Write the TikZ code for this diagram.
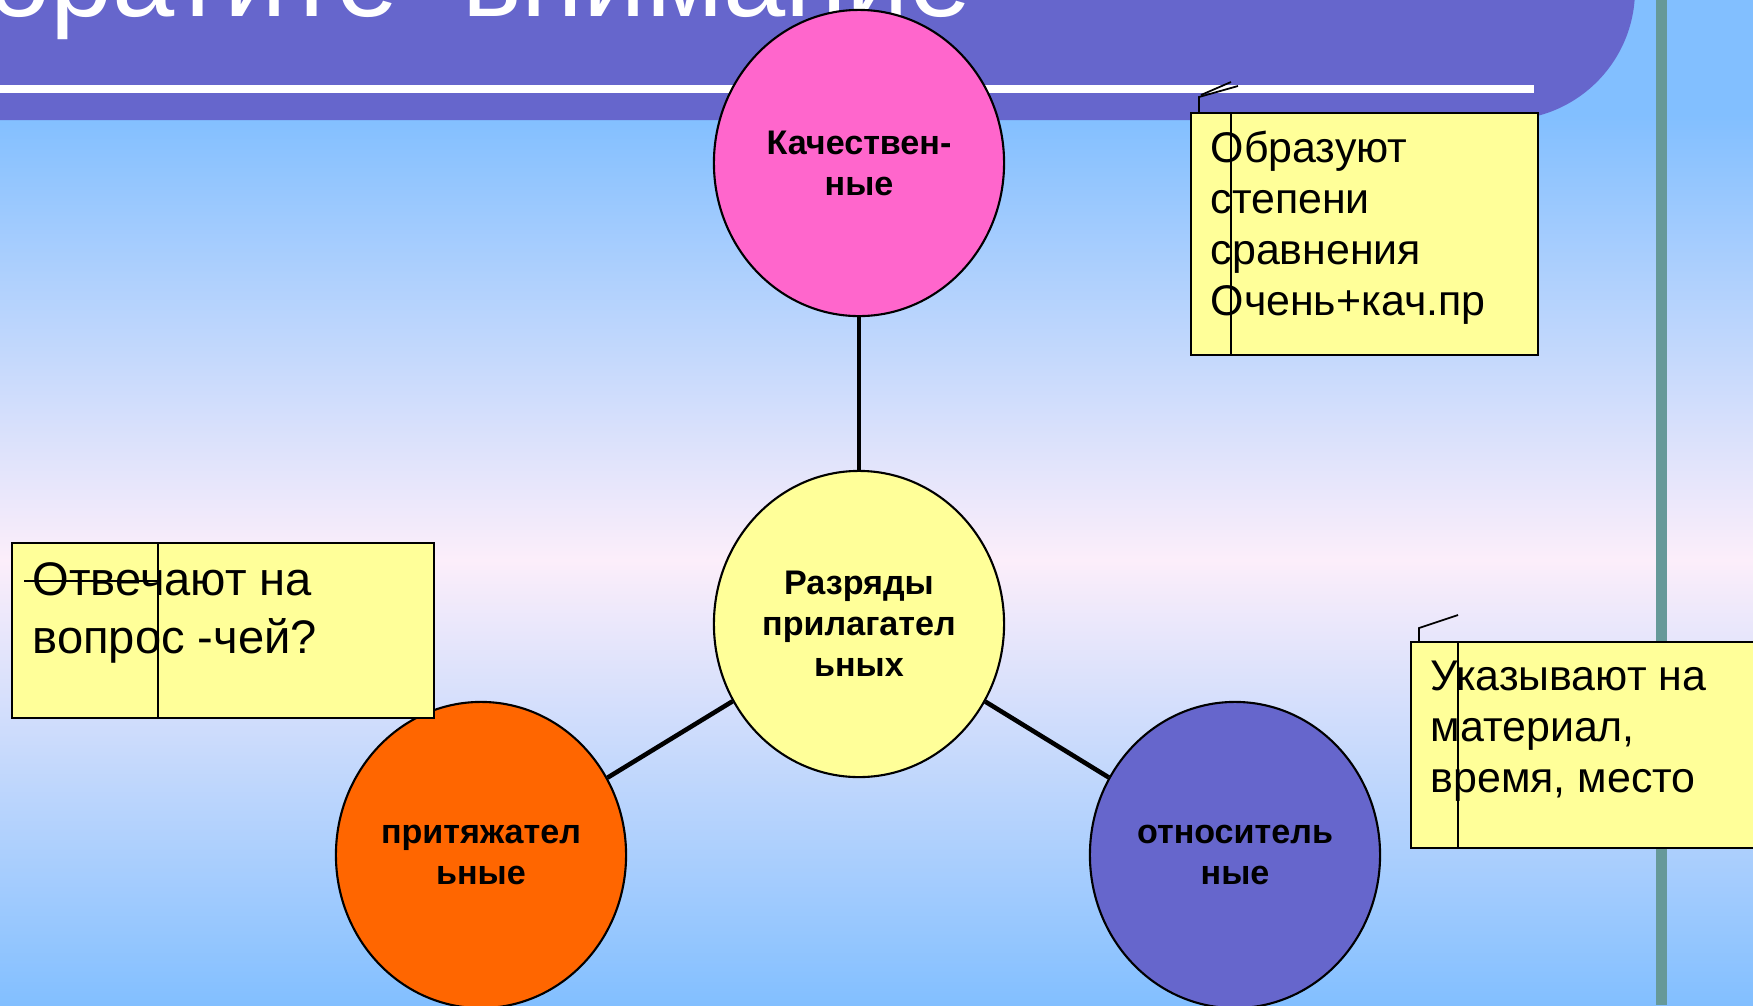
\documentclass[tikz,border=0pt]{standalone}
\usepackage{fontspec}
\setmainfont{Liberation Sans}
\usetikzlibrary{shapes.geometric}

\definecolor{fondoazul}{HTML}{82BFFF}
\definecolor{fondoclaro}{HTML}{FCEEFA}
\definecolor{morado}{HTML}{6666CC}
\definecolor{rosa}{HTML}{FF66CC}
\definecolor{naranja}{HTML}{FF6600}
\definecolor{amarillo}{HTML}{FFFF99}
\definecolor{verdeazul}{HTML}{669999}

\begin{document}
\begin{tikzpicture}[x=0.01cm, y=-0.01cm,
    circulo/.style={ellipse, draw=black, line width=0.6pt, minimum width=2.9cm,
        minimum height=3.06cm, inner sep=0pt, align=center,
        font=\bfseries\fontsize{9.7}{11.7}\selectfont},
    enlace/.style={line width=1.3pt},
    nota/.style={fill=amarillo, draw=black, line width=0.7pt},
    marca/.style={line width=0.5pt},
    textonota/.style={anchor=north west, inner sep=0pt, align=left,
        font=\fontsize{12.2}{14.5}\selectfont}]
            \useasboundingbox (0,0) rectangle (1753,1005);
            \clip (0,0) rectangle (1753,1005);

            % Fondo
            \fill[fondoazul] (0,0) rectangle (1753,115);
            \shade[top color=fondoazul, bottom color=fondoclaro] (0,115) rectangle (1753,560);
            \shade[top color=fondoclaro, bottom color=fondoazul] (0,560) rectangle (1753,1005);
            \fill[verdeazul] (1656,0) rectangle (1667,1005);

            % Titulo
            \fill[morado, rounded corners=1.3cm] (-200,-200) rectangle (1635,120);
            \fill[white] (0,85) rectangle (1534,93);
            \node[anchor=base west, inner sep=0pt, text=white, font=\fontsize{31.8}{36}\selectfont]
                (titulo) at (-101,16) {Обратите\hspace{0.64cm}внимание};

            % Circulos
            \node[circulo, fill=rosa] (kach) at (859,163) {Качествен-\\ные};
            \node[circulo, fill=amarillo] (razr) at (859,624) {Разряды\\прилагател\\ьных};
            \node[circulo, fill=naranja] (prit) at (481,855) {притяжател\\ьные};
            \node[circulo, fill=morado] (otn) at (1235,855) {относитель\\ные};

            % Enlaces
            \draw[enlace] (kach) -- (razr);
            \draw[enlace] (razr) -- (prit);
            \draw[enlace] (razr) -- (otn);

            % Nota arriba
            \draw[nota] (1191,113) rectangle (1538,355);
            \draw[marca] (1231,113) -- (1231,355);
            \draw[marca] (1199,113) -- (1199,97) -- (1238,86);
            \draw[marca] (1201,95) -- (1231,82);
            \node[textonota] (obraz) at (1210,130) {Образуют\\степени\\сравнения\\Очень+кач.пр};

            % Nota abajo
            \draw[nota] (1411,642) rectangle (1800,848);
            \draw[marca] (1458,642) -- (1458,848);
            \draw[marca] (1419,642) -- (1419,628) -- (1458,615);
            \node[textonota] (ukaz) at (1430,660) {Указывают на\\материал,\\время, место};

            % Nota izquierda
            \draw[nota] (12,543) rectangle (434,718);
            \draw[marca] (158,543) -- (158,718);
            \node[textonota, font=\fontsize{13.4}{16.5}\selectfont] (otve) at (32,562) {Отвечают на\\вопрос -чей?};
            \draw[marca] (24,581) -- (157,581);
        \end{tikzpicture}
\end{document}
